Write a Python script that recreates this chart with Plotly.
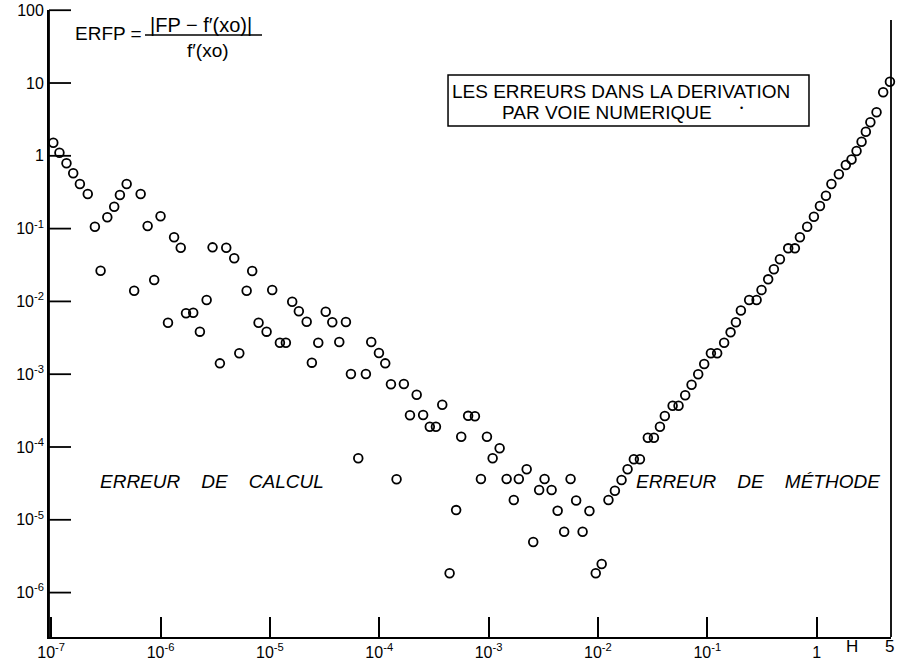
import plotly.graph_objects as go

# Step size h (x) and relative error ERFP (y)
h_calcul = [8.95e-8, 1.045e-7, 1.19e-7, 1.38e-7, 1.59e-7, 1.83e-7, 2.16e-7, 2.51e-7, 2.83e-7, 3.26e-7,
            3.77e-7, 4.25e-7, 4.90e-7, 5.74e-7, 6.58e-7, 7.62e-7, 8.75e-7, 1.00e-6, 1.17e-6, 1.33e-6,
            1.53e-6, 1.71e-6, 1.99e-6, 2.29e-6, 2.64e-6, 2.99e-6, 3.49e-6, 3.99e-6, 4.72e-6, 5.25e-6,
            6.13e-6, 6.89e-6, 7.88e-6, 9.33e-6, 1.05e-5, 1.235e-5, 1.40e-5, 1.60e-5, 1.84e-5, 2.17e-5,
            2.42e-5, 2.77e-5, 3.24e-5, 3.72e-5, 4.31e-5, 4.96e-5, 5.51e-5, 6.43e-5, 7.55e-5, 8.45e-5,
            9.94e-5, 1.135e-4, 1.28e-4, 1.44e-4, 1.68e-4, 1.91e-4, 2.20e-4, 2.52e-4, 2.90e-4, 3.30e-4,
            3.77e-4, 4.40e-4, 5.05e-4, 5.62e-4, 6.50e-4, 7.50e-4, 8.51e-4, 9.66e-4, 1.089e-3, 1.262e-3,
            1.462e-3, 1.70e-3, 1.89e-3, 2.23e-3, 2.56e-3, 2.90e-3, 3.25e-3, 3.77e-3, 4.28e-3, 4.91e-3,
            5.62e-3, 6.32e-3, 7.24e-3, 8.36e-3, 9.55e-3, 1.082e-2]
erfp_calcul = [1.485, 1.51, 1.10, 0.789, 0.575, 0.41, 0.299, 0.106, 0.0264, 0.143,
               0.20, 0.289, 0.41, 0.01403, 0.299, 0.1086, 0.01968, 0.1475, 0.0051, 0.076,
               0.0546, 0.00686, 0.0070, 0.00384, 0.01045, 0.0553, 0.00141, 0.0546, 0.0391, 0.00194,
               0.01403, 0.02616, 0.0051, 0.00384, 0.01434, 0.00271, 0.00271, 0.00987, 0.00733, 0.00526,
               0.00144, 0.00271, 0.00722, 0.00516, 0.00277, 0.00521, 0.001006, 7.0e-5, 0.001006, 0.00277,
               0.001955, 0.00141, 7.29e-4, 3.6e-5, 7.34e-4, 2.73e-4, 5.23e-4, 2.75e-4, 1.90e-4, 1.90e-4,
               3.80e-4, 1.84e-6, 1.36e-5, 1.385e-4, 2.68e-4, 2.64e-4, 3.63e-5, 1.385e-4, 7.0e-5, 9.6e-5,
               3.63e-5, 1.87e-5, 3.63e-5, 4.94e-5, 4.95e-6, 2.57e-5, 3.63e-5, 2.57e-5, 1.33e-5, 6.86e-6,
               3.63e-5, 1.84e-5, 6.86e-6, 1.32e-5, 1.84e-6, 2.47e-6]

h_methode = [1.248e-2, 1.429e-2, 1.644e-2, 1.866e-2, 2.13e-2, 2.42e-2, 2.86e-2, 3.25e-2, 3.69e-2, 4.09e-2,
             4.82e-2, 5.46e-2, 6.28e-2, 7.18e-2, 8.26e-2, 9.37e-2, 0.1079, 0.1231, 0.1426, 0.1633,
             0.1827, 0.2028, 0.2415, 0.2825, 0.3133, 0.3604, 0.4064, 0.4613, 0.5495, 0.6324,
             0.7031, 0.8193, 0.944, 1.072, 1.216, 1.365, 1.597, 1.849, 2.085, 2.317,
             2.576, 2.818, 3.10, 3.53, 4.06, 4.68]
erfp_methode = [1.87e-5, 2.51e-5, 3.52e-5, 4.94e-5, 6.78e-5, 6.78e-5, 1.342e-4, 1.342e-4, 1.90e-4, 2.67e-4,
                3.69e-4, 3.69e-4, 5.13e-4, 7.17e-4, 9.97e-4, 1.38e-3, 1.94e-3, 1.94e-3, 2.71e-3, 3.76e-3,
                5.16e-3, 7.5e-3, 0.01045, 0.01045, 0.01434, 0.0201, 0.0276, 0.0379, 0.0536, 0.0536,
                0.076, 0.1062, 0.1457, 0.2043, 0.283, 0.41, 0.557, 0.747, 0.89, 1.164,
                1.562, 2.143, 2.885, 3.958, 7.45, 10.4]

x_tickvals = [1e-7, 1e-6, 1e-5, 1e-4, 1e-3, 1e-2, 1e-1, 1]
x_ticktext = ["10<sup>-7</sup>", "10<sup>-6</sup>", "10<sup>-5</sup>", "10<sup>-4</sup>",
              "10<sup>-3</sup>", "10<sup>-2</sup>", "10<sup>-1</sup>", "1"]
y_tickvals = [1e-6, 1e-5, 1e-4, 1e-3, 1e-2, 1e-1, 1, 10, 100]
y_ticktext = ["10<sup>-6</sup>", "10<sup>-5</sup>", "10<sup>-4</sup>", "10<sup>-3</sup>",
              "10<sup>-2</sup>", "10<sup>-1</sup>", "1", "10", "100"]

X_RANGE = [-7.02, 0.68]
Y_RANGE = [-6.61, 2.003]
FONT = "Liberation Sans, Arial, Helvetica, sans-serif"
marker = dict(symbol="circle-open", size=8.7, color="black", line=dict(width=1.8, color="black"))

fig = go.Figure()
fig.add_trace(go.Scatter(x=h_calcul + h_methode, y=erfp_calcul + erfp_methode, mode="markers",
                         marker=marker, cliponaxis=False, showlegend=False))

axis_common = dict(showgrid=False, zeroline=False, showline=True, linecolor="black", linewidth=1.8,
                   tickcolor="black", tickwidth=1.8, automargin=False,
                   ticklabeloverflow="allow",
                   tickfont=dict(family=FONT, size=16, color="black"))
fig.update_xaxes(type="log", range=X_RANGE, tickvals=x_tickvals, ticktext=x_ticktext,
                 ticks="inside", ticklen=20, **axis_common)
fig.update_yaxes(type="log", range=Y_RANGE, tickvals=y_tickvals, ticktext=y_ticktext,
                 ticks="", **axis_common)

ann = []
def txt(x, y, s, size=16, italic=False, xanchor="center"):
    ann.append(dict(x=x, y=y, xref="paper", yref="paper", text=s, showarrow=False,
                    xanchor=xanchor, yanchor="middle", borderpad=0,
                    font=dict(family=FONT, size=size, color="black",
                              style="italic" if italic else "normal")))

txt(0.0297, 0.9633, "ERFP =", size=19, xanchor="left")
txt(0.1800, 0.9761, "|FP − f′(xo)|", size=20)
txt(0.1894, 0.9362, "f′(xo)", size=19)
txt(0.6799, 0.8697, "LES ERREURS DANS LA DERIVATION", size=19)
txt(0.6627, 0.8362, "PAR VOIE NUMERIQUE", size=19)
txt(0.8230, 0.8437, "•", size=9)
nb = "\u00a0"
txt(0.1936, 0.2488, f"ERREUR{nb*4}DE{nb*4}CALCUL", size=19, italic=True)
txt(0.8420, 0.2477, f"ERREUR{nb*4}DE{nb*4}MÉTHODE", size=19, italic=True)
txt(0.9537, -0.0159, "H", size=17)
txt(0.9985, -0.0159, "5", size=17)

shapes = [
    dict(type="line", xref="paper", yref="paper", x0=0.1140, x1=0.2530, y0=0.9601, y1=0.9601,
         line=dict(color="black", width=1.3)),
    dict(type="rect", xref="paper", yref="paper", x0=0.4739, x1=0.9026, y0=0.8150, y1=0.8963,
         line=dict(color="black", width=1.5)),
    dict(type="line", xref="paper", yref="paper", x0=1.0, x1=1.0, y0=0.0, y1=0.984,
         line=dict(color="black", width=1.8)),
    dict(type="line", xref="paper", yref="paper", x0=0.0, x1=0.0, y0=0.0, y1=1.0,
         line=dict(color="black", width=1.8)),
]
# inward y-axis tick marks (22 px long) at each labelled decade
import math
tick_len_paper = 22 / 842
for v in y_tickvals:
    py = (math.log10(v) - Y_RANGE[0]) / (Y_RANGE[1] - Y_RANGE[0])
    shapes.append(dict(type="line", xref="paper", yref="paper", x0=0.0, x1=tick_len_paper,
                       y0=py, y1=py, line=dict(color="black", width=1.8)))

fig.update_layout(width=900, height=663, margin=dict(l=49, r=9, t=10, b=26, autoexpand=False),
                  plot_bgcolor="white", paper_bgcolor="white",
                  annotations=ann, shapes=shapes, showlegend=False)
# remove the default 8px page margin so the 900x663 figure fills the window exactly
fig.write_html("out.html", config={"displayModeBar": False},
               post_script="document.body.style.margin='0px';")
